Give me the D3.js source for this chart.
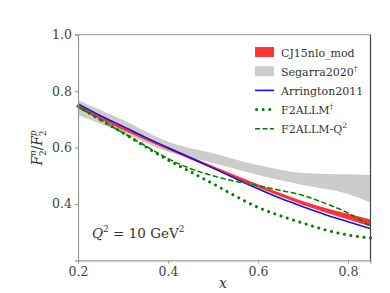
<!DOCTYPE html>
<html>
<head>
<meta charset="utf-8">
<script src="https://cdn.jsdelivr.net/npm/d3@7"></script>
<style>
  body { margin: 0; background: #fff; }
  svg text { font-family: "DejaVu Serif"; }
</style>
</head>
<body>
<svg id="chart" width="390" height="293"></svg>
<script>
// values
const xs = [0.2, 0.25, 0.3, 0.35, 0.4, 0.45, 0.5, 0.55, 0.6, 0.65, 0.7, 0.75, 0.8, 0.85];
const arrington = [0.755, 0.713, 0.675, 0.636, 0.599, 0.563, 0.527, 0.49, 0.454, 0.42, 0.39, 0.362, 0.337, 0.313];
const f2allm = [0.746, 0.698, 0.652, 0.603, 0.556, 0.514, 0.472, 0.428, 0.388, 0.358, 0.332, 0.308, 0.29, 0.279];
const f2allmQ2 = [0.746, 0.698, 0.652, 0.606, 0.561, 0.525, 0.50, 0.48, 0.465, 0.448, 0.43, 0.402, 0.368, 0.32];

const bandX = [0.2, 0.3, 0.4, 0.5, 0.6, 0.7, 0.8, 0.85];
const cj15Lo = [0.738, 0.662, 0.592, 0.525, 0.458, 0.396, 0.345, 0.32];
const cj15Hi = [0.752, 0.674, 0.602, 0.535, 0.47, 0.41, 0.365, 0.345];
const segLo = [0.715, 0.652, 0.585, 0.545, 0.503, 0.467, 0.435, 0.405];
const segHi = [0.768, 0.698, 0.621, 0.58, 0.538, 0.51, 0.505, 0.503];

const xTicks = [0.2, 0.4, 0.6, 0.8];
const yTicks = [0.4, 0.6, 0.8, 1.0];

const svg = d3.select("#chart");
const mLeft = 78, mRight = 370.5, mTop = 34.7, mBottom = 260.4;

const x = d3.scaleLinear().domain([0.2, 0.85]).range([mLeft, mRight]);
const y = d3.scaleLinear().domain([0.2, 1.0]).range([mBottom, mTop]);

const plot = svg.append("g");

// bands
const area = d3.area()
    .x(d => x(d.x))
    .y0(d => y(d.lo))
    .y1(d => y(d.hi))
    .curve(d3.curveMonotoneX);

plot.append("path")
    .datum(bandX.map((v, i) => ({x: v, lo: segLo[i], hi: segHi[i]})))
    .attr("d", area)
    .attr("fill", "#cccccc");

plot.append("path")
    .datum(bandX.map((v, i) => ({x: v, lo: cj15Lo[i], hi: cj15Hi[i]})))
    .attr("d", area)
    .attr("fill", "#ff3333");

const line = d3.line()
    .x((d, i) => x(xs[i]))
    .y(d => y(d))
    .curve(d3.curveMonotoneX);

plot.append("path")
    .datum(arrington)
    .attr("d", line)
    .attr("fill", "none")
    .attr("stroke", "#1010ee")
    .attr("stroke-width", 1.6);

plot.append("path")
    .datum(f2allm)
    .attr("d", line)
    .attr("fill", "none")
    .attr("stroke", "#008000")
    .attr("stroke-width", 3)
    .attr("stroke-linecap", "round")
    .attr("stroke-dasharray", "0.1,6.5");

plot.append("path")
    .datum(f2allmQ2)
    .attr("d", line)
    .attr("fill", "none")
    .attr("stroke", "#008000")
    .attr("stroke-width", 1.5)
    .attr("stroke-dasharray", "5.5,2.5");

// axes
const xAxis = svg.append("g")
    .attr("transform", `translate(0,${mBottom})`)
    .call(d3.axisBottom(x).tickValues(xTicks).tickFormat(d3.format(".1f")).tickSize(3).tickPadding(4));
const yAxis = svg.append("g")
    .attr("transform", `translate(${mLeft},0)`)
    .call(d3.axisLeft(y).tickValues(yTicks).tickFormat(d3.format(".1f")).tickSize(3).tickPadding(3));

[xAxis, yAxis].forEach(g => {
    g.attr("font-size", 12.5);
    g.select(".domain").attr("stroke", "#999").attr("stroke-width", 1.2);
    g.selectAll(".tick line").attr("stroke", "#999");
    g.selectAll(".tick text").attr("fill", "#444");
});

// top and right spines
svg.append("line")
    .attr("x1", mLeft).attr("x2", mRight).attr("y1", mTop).attr("y2", mTop)
    .attr("stroke", "#aaa").attr("stroke-width", 1.2);
svg.append("line")
    .attr("x1", mRight).attr("x2", mRight).attr("y1", mTop).attr("y2", mBottom)
    .attr("stroke", "#444").attr("stroke-width", 1.2);

// axis labels
svg.append("text")
    .attr("x", 223).attr("y", 288)
    .attr("text-anchor", "middle")
    .attr("font-style", "italic")
    .attr("font-size", 14)
    .attr("fill", "#333")
    .text("x");

const yl = svg.append("text")
    .attr("transform", "translate(42,148) rotate(-90)")
    .attr("text-anchor", "middle")
    .attr("font-size", 14)
    .attr("fill", "#333");
yl.append("tspan").attr("font-style", "italic").text("F");
yl.append("tspan").attr("font-size", 8.5).attr("dy", 4).text("2");
yl.append("tspan").attr("font-size", 8.5).attr("font-style", "italic").attr("dx", -5.4).attr("dy", -10).text("n");
yl.append("tspan").attr("dy", 6).text("/");
yl.append("tspan").attr("font-style", "italic").text("F");
yl.append("tspan").attr("font-size", 8.5).attr("dy", 4).text("2");
yl.append("tspan").attr("font-size", 8.5).attr("font-style", "italic").attr("dx", -5.4).attr("dy", -10).text("p");

// Q^2 annotation
const q = svg.append("text")
    .attr("x", 92).attr("y", 238)
    .attr("font-size", 13.5)
    .attr("fill", "#333");
q.append("tspan").attr("font-style", "italic").text("Q");
q.append("tspan").attr("font-size", 9).attr("dy", -6).text("2");
q.append("tspan").attr("dy", 6).text(" = 10 GeV");
q.append("tspan").attr("font-size", 9).attr("dy", -6).text("2");

// legend
const legendItems = [
    {label: "CJ15nlo_mod", sup: "", kind: "patch", color: "#ff3333"},
    {label: "Segarra2020", sup: "†", kind: "patch", color: "#cccccc"},
    {label: "Arrington2011", sup: "", kind: "solid", color: "#1010ee"},
    {label: "F2ALLM", sup: "†", kind: "dot", color: "#008000"},
    {label: "F2ALLM-Q", sup: "2", kind: "dash", color: "#008000"}
];

const legend = svg.append("g").attr("transform", "translate(255,52)");
legendItems.forEach((d, i) => {
    const g = legend.append("g").attr("transform", `translate(0,${i * 19.2})`);
    if (d.kind === "patch") {
        g.append("rect").attr("x", 0).attr("y", -5).attr("width", 19).attr("height", 10).attr("fill", d.color);
    } else {
        const l = g.append("line").attr("x1", 0).attr("x2", 19).attr("y1", 0).attr("y2", 0)
            .attr("stroke", d.color);
        if (d.kind === "solid") l.attr("stroke-width", 1.6);
        if (d.kind === "dot") l.attr("stroke-width", 3).attr("stroke-linecap", "round").attr("stroke-dasharray", "0.1,6.5").attr("x1", 1.5);
        if (d.kind === "dash") l.attr("stroke-width", 1.5).attr("stroke-dasharray", "5,2.5");
    }
    const t = g.append("text").attr("x", 26).attr("y", 4.5)
        .attr("font-size", 11).attr("fill", "#333").text(d.label);
    if (d.sup) t.append("tspan").attr("font-size", 7.5).attr("dy", -5).text(d.sup);
});
</script>
</body>
</html>
